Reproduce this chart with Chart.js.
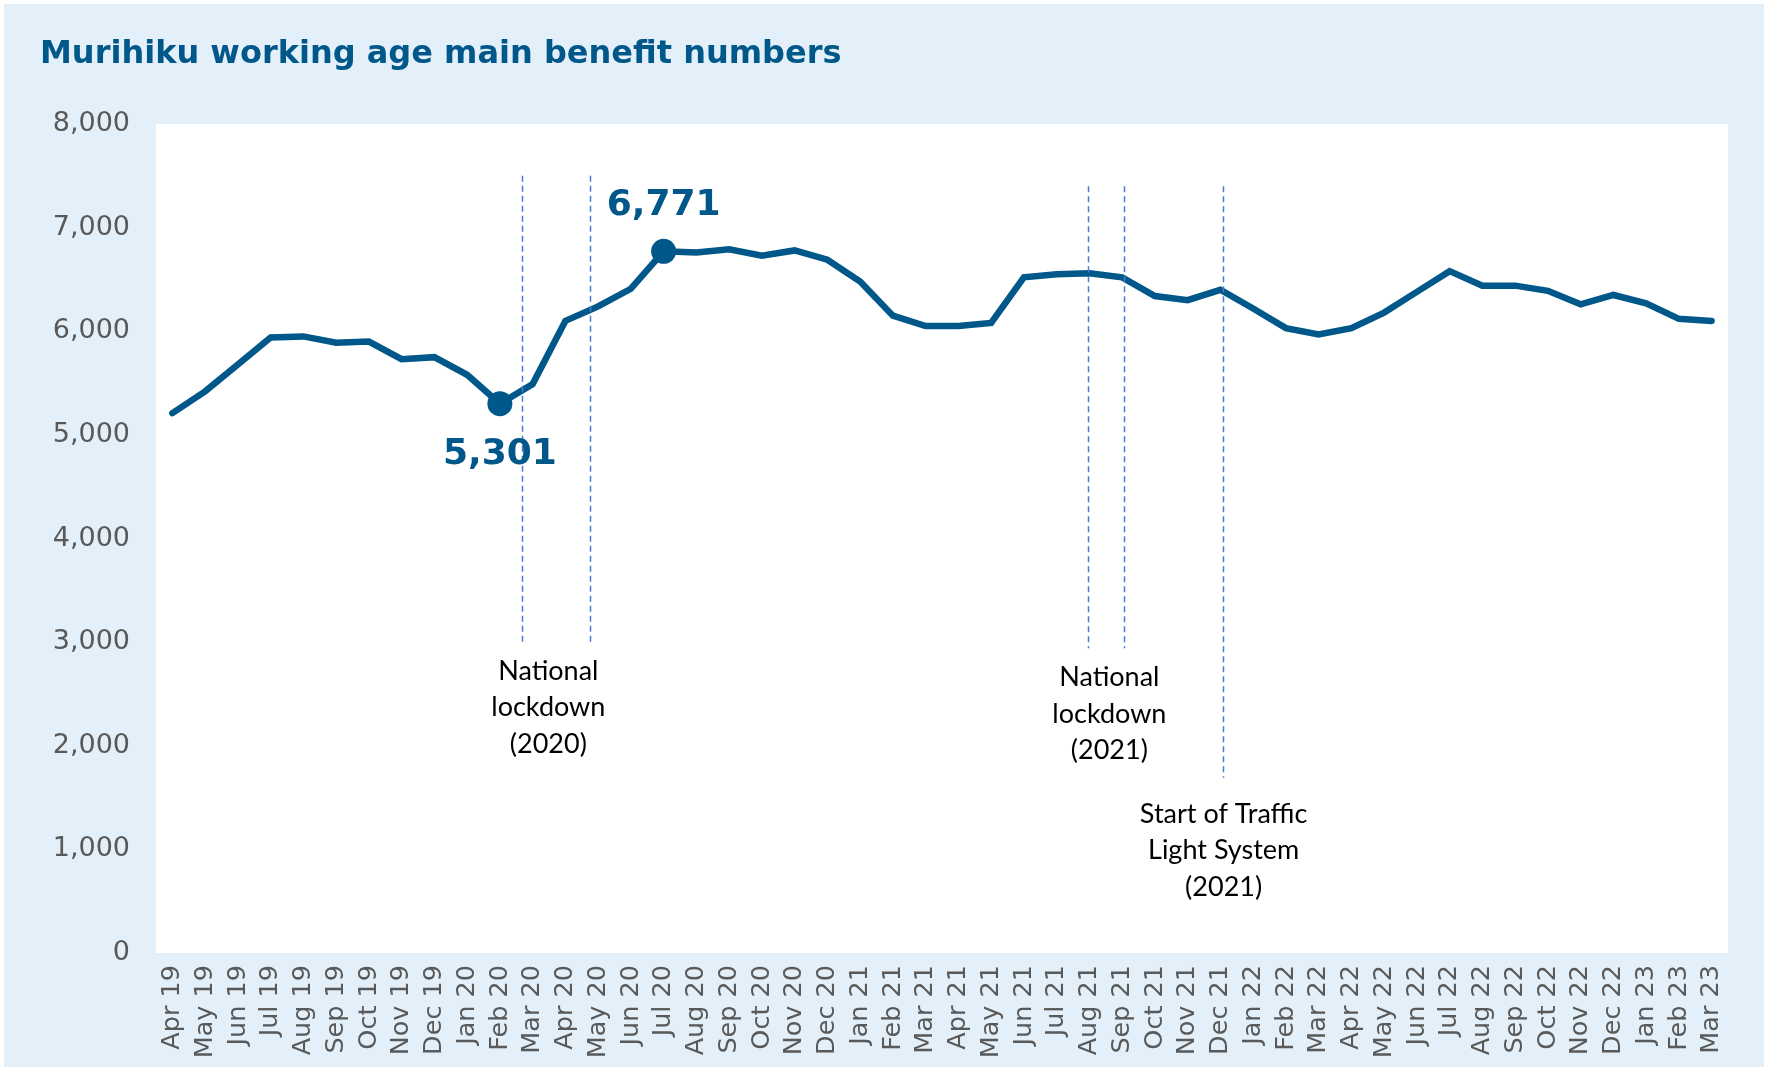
<!DOCTYPE html>
<html>
<head>
<meta charset="utf-8">
<script src="https://cdn.jsdelivr.net/npm/chart.js@4/dist/chart.umd.min.js"></script>
<style>
  html, body { margin: 0; padding: 0; background: #ffffff; }
  #bg { position: absolute; left: 4px; top: 4px; width: 1760px; height: 1063px; background: #E3F0F9; }
  #c { position: absolute; left: 0; top: 0; }
</style>
</head>
<body>
<div id="bg"></div>
<canvas id="c" width="1773" height="1068"></canvas>
<script>
// ---- Data ----
const categories = [
  'Apr 19','May 19','Jun 19','Jul 19','Aug 19','Sep 19','Oct 19','Nov 19','Dec 19',
  'Jan 20','Feb 20','Mar 20','Apr 20','May 20','Jun 20','Jul 20','Aug 20','Sep 20','Oct 20','Nov 20','Dec 20',
  'Jan 21','Feb 21','Mar 21','Apr 21','May 21','Jun 21','Jul 21','Aug 21','Sep 21','Oct 21','Nov 21','Dec 21',
  'Jan 22','Feb 22','Mar 22','Apr 22','May 22','Jun 22','Jul 22','Aug 22','Sep 22','Oct 22','Nov 22','Dec 22',
  'Jan 23','Feb 23','Mar 23'
];
const benefitNumbers = [
  5210, 5420, 5680, 5940, 5950, 5890, 5900, 5730, 5750,
  5580, 5301, 5490, 6100, 6240, 6410, 6771, 6760, 6790, 6730, 6780, 6690,
  6480, 6150, 6050, 6050, 6080, 6520, 6550, 6560, 6520, 6340, 6300, 6400,
  6220, 6030, 5970, 6030, 6180, 6380, 6580, 6440, 6440, 6390, 6260, 6350,
  6270, 6120, 6100
];
const yTickValues = [0, 1000, 2000, 3000, 4000, 5000, 6000, 7000, 8000];
const highlightedMonths = ['Feb 20', 'Jul 20'];
const highlightPlacement = ['below', 'above'];

// Event markers: position on the month axis (fractional index), value range of the dashed line
const eventLinePositions = [10.68, 12.76, 27.96, 29.07, 32.07];
const eventLineTops      = [7500, 7500, 7400, 7400, 7400];
const eventLineBottoms   = [3000, 3000, 2940, 2940, 1690];

// Event annotation texts
const eventTexts = [
  ['National', 'lockdown', '(2020)'],
  ['National', 'lockdown', '(2021)'],
  ['Start of Traffic', 'Light System', '(2021)']
];
const eventTextPositions = [11.48, 28.61, 32.1];
const eventTextTopValues = [2720, 2660, 1340];

const MAIN = '#00578A';
const GREY = '#595959';

const plotBg = {
  id: 'plotBg',
  beforeDraw(chart) {
    const {ctx, chartArea: a} = chart;
    ctx.save();
    ctx.fillStyle = '#ffffff';
    ctx.fillRect(a.left, a.top, a.right - a.left, a.bottom - a.top);
    ctx.restore();
  }
};

const eventLines = {
  id: 'eventLines',
  afterDatasetsDraw(chart) {
    const {ctx} = chart;
    const xs = chart.scales.x, ys = chart.scales.y;
    ctx.save();
    ctx.strokeStyle = '#4A7BD0';
    ctx.lineWidth = 1.5;
    ctx.setLineDash([6, 4]);
    eventLinePositions.forEach((p, i) => {
      const x = Math.round(xs.getPixelForValue(p)) + 0.5;
      ctx.beginPath();
      ctx.moveTo(x, ys.getPixelForValue(eventLineTops[i]));
      ctx.lineTo(x, ys.getPixelForValue(eventLineBottoms[i]));
      ctx.stroke();
    });
    ctx.restore();
  }
};

const textLayer = {
  id: 'textLayer',
  afterDraw(chart) {
    const {ctx} = chart;
    const xs = chart.scales.x, ys = chart.scales.y;
    const meta = chart.getDatasetMeta(0);
    ctx.save();
    // value labels
    ctx.fillStyle = MAIN;
    ctx.font = 'bold 36px "DejaVu Sans"';
    ctx.textAlign = 'center';
    ctx.textBaseline = 'middle';
    highlightedMonths.forEach((m, i) => {
      const idx = categories.indexOf(m);
      const pt = meta.data[idx];
      const txt = benefitNumbers[idx].toLocaleString('en-US');
      const dy = highlightPlacement[i] === 'below' ? 51 : -46;
      ctx.fillText(txt, pt.x, pt.y + dy);
    });
    // event annotation texts
    ctx.fillStyle = '#000000';
    ctx.font = '27px Lato';
    eventTexts.forEach((lines, i) => {
      const x = xs.getPixelForValue(eventTextPositions[i]);
      const y0 = ys.getPixelForValue(eventTextTopValues[i]);
      lines.forEach((t, j) => ctx.fillText(t, x, y0 + j * 36.5));
    });
    ctx.restore();
  }
};

new Chart(document.getElementById('c'), {
  type: 'line',
  data: {
    labels: categories,
    datasets: [{
      data: benefitNumbers,
      borderColor: MAIN,
      backgroundColor: MAIN,
      borderWidth: 6.5,
      borderCapStyle: 'round',
      borderJoinStyle: 'miter',
      tension: 0,
      fill: false,
      pointRadius: c => highlightedMonths.includes(categories[c.dataIndex]) ? 12.5 : 0,
      pointHoverRadius: c => highlightedMonths.includes(categories[c.dataIndex]) ? 12.5 : 0,
      pointBackgroundColor: MAIN,
      pointBorderColor: MAIN,
      pointBorderWidth: 0
    }]
  },
  options: {
    responsive: false,
    animation: false,
    events: [],
    layout: { padding: { left: 40, right: 45, top: 0, bottom: 0 } },
    plugins: {
      legend: { display: false },
      tooltip: { enabled: false },
      title: {
        display: true,
        text: 'Murihiku working age main benefit numbers',
        align: 'start',
        color: MAIN,
        font: { family: 'DejaVu Sans', weight: 'bold', size: 32, lineHeight: 1.2 },
        padding: { top: 35, bottom: 124 - 35 - 32 * 1.2 }
      }
    },
    scales: {
      x: {
        type: 'category',
        offset: true,
        grid: { display: false, drawTicks: false },
        border: { display: false },
        ticks: {
          color: GREY,
          font: { family: 'DejaVu Sans', size: 25.5 },
          minRotation: 90,
          maxRotation: 90,
          autoSkip: false,
          padding: 12
        },
        afterFit(s) { s.height = 115; }
      },
      y: {
        min: 0,
        max: 8000,
        afterBuildTicks(s) { s.ticks = yTickValues.map(v => ({ value: v })); },
        grid: { display: false, drawTicks: false },
        border: { display: false },
        ticks: {
          color: GREY,
          font: { family: 'DejaVu Sans', size: 27 },
          padding: 26,
          callback: v => Number(v).toLocaleString('en-US')
        },
        afterFit(s) { s.width = 116; }
      }
    }
  },
  plugins: [plotBg, eventLines, textLayer]
});
</script>
</body>
</html>
